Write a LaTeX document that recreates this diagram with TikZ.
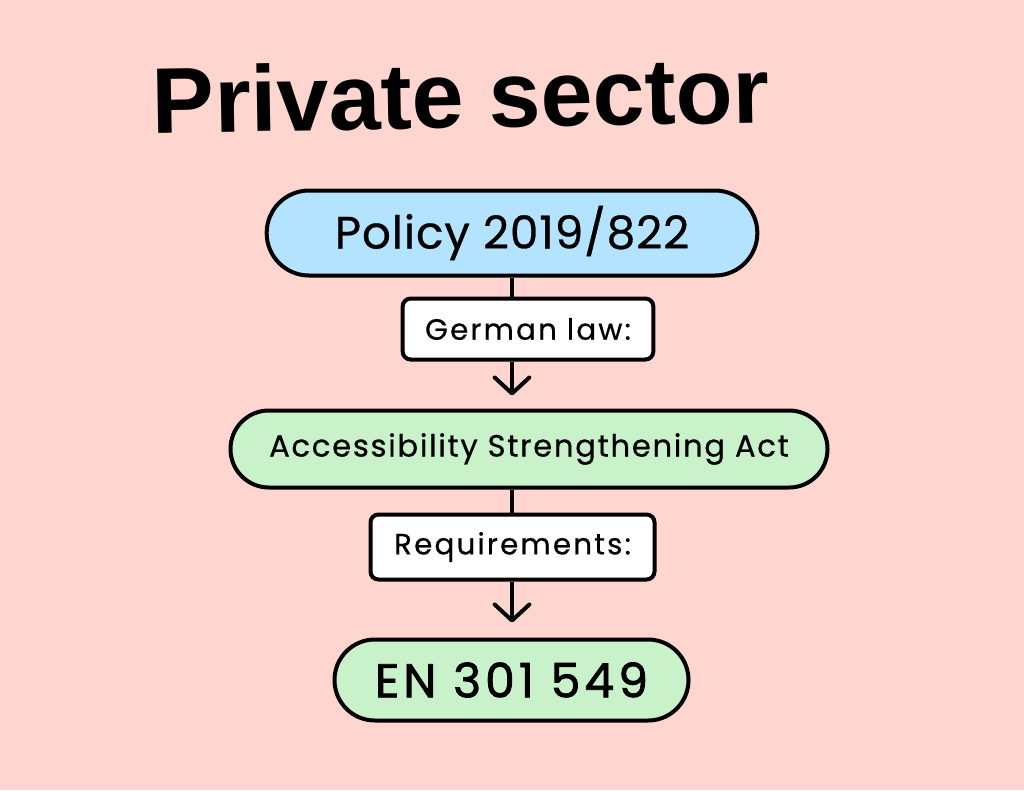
\documentclass[tikz,border=0pt]{standalone}
\usepackage{fontspec}
\setmainfont{Poppins}
\newfontfamily\titlefont{Liberation Sans}
\newfontfamily\policyfont{Poppins}[LetterSpace=2,FakeBold=0.6]
\newfontfamily\labelfont{Poppins}[LetterSpace=7.5,FakeBold=0.6]
\newfontfamily\actfont{Poppins}[LetterSpace=5.5,FakeBold=0.6]
\newfontfamily\enfont{Poppins}[LetterSpace=8.5,FakeBold=1.6]
\usetikzlibrary{arrows.meta}
\definecolor{bgpink}{HTML}{FFD5CF}
\definecolor{pillblue}{HTML}{B3E3FF}
\definecolor{pillgreen}{HTML}{C9F2CB}
\tikzset{
  pill/.style={draw=black, line width=3pt, inner sep=0pt, align=center},
  labelbox/.style={draw=black, fill=white, line width=3pt, rounded corners=6pt, inner sep=0pt},
  link/.style={line width=3pt, draw=black},
  arrowlink/.style={link, -{Straight Barb[length=12pt,width=26pt,line width=3pt,round]}}
}
\begin{document}
\begin{tikzpicture}[x=0.75pt,y=-0.75pt]
\fill[bgpink] (0,0) rectangle (1024,790);
\useasboundingbox (0,0) rectangle (1024,790);
\coordinate (axis) at (512,0);
\node[font=\titlefont\bfseries\fontsize{70}{74}\selectfont, anchor=base, rotate=1] (title) at (461.5,128) {Private sector};
\node[pill, fill=pillblue, minimum width=368pt, minimum height=63.75pt, rounded corners=31.8pt,
  font=\policyfont\fontsize{34}{38}\selectfont] (policy) at (512,233) {Policy 2019/822};
\node[labelbox, minimum width=188pt, minimum height=45.75pt,
  font=\labelfont\fontsize{22}{26}\selectfont] (german) at (528,329) {German law:};
\node[pill, fill=pillgreen, minimum width=447.75pt, minimum height=57.75pt, rounded corners=28.8pt,
  font=\actfont\fontsize{23}{27}\selectfont] (act) at (529,449) {Accessibility Strengthening Act};
\node[labelbox, minimum width=213pt, minimum height=48.75pt,
  font=\labelfont\fontsize{22}{26}\selectfont] (req) at (512.5,547) {Requirements:};
\node[pill, fill=pillgreen, minimum width=265.5pt, minimum height=60.75pt, rounded corners=30.3pt,
  font=\enfont\fontsize{35.5}{40}\selectfont] (en) at (511.5,680) {EN 301 549};
\draw[link] (policy.south -| axis) -- (german.north -| axis);
\draw[arrowlink, shorten >=9.75pt] (german.south -| axis) -- (act.north -| axis);
\draw[link] (act.south -| axis) -- (req.north -| axis);
\draw[arrowlink, shorten >=11.25pt] (req.south -| axis) -- (en.north -| axis);
\end{tikzpicture}
\end{document}
